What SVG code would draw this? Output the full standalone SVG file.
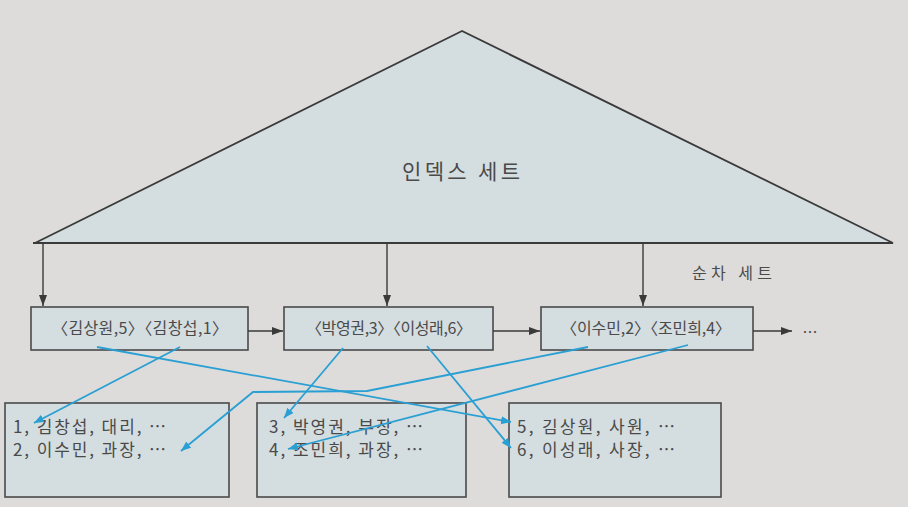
<svg xmlns="http://www.w3.org/2000/svg" width="908" height="507" viewBox="0 0 908 507">
<style>
.box{fill:#d4dde0;stroke:#4a4a4a;stroke-width:1.6}
.t{font-family:"Noto Sans CJK KR","Noto Sans",sans-serif;fill:#4a4a4a}
.d{font-size:17px}
.k{stroke:#3a3a3a;stroke-width:1.4;fill:none}
.b{stroke:#2a9fd3;stroke-width:1.8;fill:none}
</style>
<defs>
<marker id="ak" markerUnits="userSpaceOnUse" markerWidth="12" markerHeight="10" refX="11" refY="4" orient="auto"><path d="M0,0 L11,4 L0,8 z" fill="#3a3a3a"/></marker>
<marker id="ab" markerUnits="userSpaceOnUse" markerWidth="12" markerHeight="10" refX="10" refY="4" orient="auto"><path d="M0,0 L10,4 L0,8 z" fill="#2a9fd3"/></marker>
</defs>
<rect width="908" height="507" fill="#dddcdb"/>
<g id="index-set">
<polygon points="462,31 35,243 893,243" fill="#d4dde0" stroke="#3a3a3a" stroke-width="1.8"/>
<line x1="33" y1="243" x2="893" y2="243" stroke="#3a3a3a" stroke-width="2.2"/>
<text class="t" x="461" y="179" font-size="21" text-anchor="middle" textLength="118">인덱스 세트</text>
</g>
<text class="t" x="732" y="279" font-size="16" text-anchor="middle" textLength="80">순차 세트</text>
<g id="seq1"><rect class="box" x="31" y="307" width="217" height="43"/><text class="t" x="140" y="334" font-size="16" text-anchor="middle" textLength="176">〈김상원,5〉〈김창섭,1〉</text></g>
<g id="seq2"><rect class="box" x="284" y="307" width="209" height="43"/><text class="t" x="389" y="334" font-size="16" text-anchor="middle" textLength="166">〈박영권,3〉〈이성래,6〉</text></g>
<g id="seq3"><rect class="box" x="541" y="307" width="212" height="43"/><text class="t" x="646" y="334" font-size="16" text-anchor="middle" textLength="170">〈이수민,2〉〈조민희,4〉</text></g>
<text class="t" x="810" y="338" font-size="15" text-anchor="middle">…</text>
<g id="dataA"><rect class="box" x="5" y="403" width="224" height="94"/>
<text class="t d" x="13" y="433" textLength="153">1, 김창섭, 대리, …</text>
<text class="t d" x="13" y="456" textLength="153">2, 이수민, 과장, …</text></g>
<g id="dataB"><rect class="box" x="257" y="403" width="209" height="94"/>
<text class="t d" x="269" y="433" textLength="154">3, 박영권, 부장, …</text>
<text class="t d" x="269" y="456" textLength="154">4, 조민희, 과장, …</text></g>
<g id="dataC"><rect class="box" x="509" y="403" width="212" height="94"/>
<text class="t d" x="517" y="433" textLength="158">5, 김상원, 사원, …</text>
<text class="t d" x="517" y="456" textLength="158">6, 이성래, 사장, …</text></g>
<g id="connectors">
<line class="k" x1="43" y1="243" x2="43" y2="306" marker-end="url(#ak)"/>
<line class="k" x1="387" y1="243" x2="387" y2="306" marker-end="url(#ak)"/>
<line class="k" x1="643" y1="243" x2="643" y2="306" marker-end="url(#ak)"/>
<line class="k" x1="248" y1="331" x2="283" y2="331" marker-end="url(#ak)"/>
<line class="k" x1="493" y1="331" x2="540" y2="331" marker-end="url(#ak)"/>
<line class="k" x1="753" y1="331" x2="792" y2="331" marker-end="url(#ak)"/>
<polyline class="b" points="180,347 34,423" marker-end="url(#ab)"/>
<polyline class="b" points="97,347 511,422" marker-end="url(#ab)"/>
<polyline class="b" points="343,348 284,418" marker-end="url(#ab)"/>
<polyline class="b" points="427,346 511,448" marker-end="url(#ab)"/>
<polyline class="b" points="588,347 367,391 253,392 181,451" marker-end="url(#ab)"/>
<polyline class="b" points="688,345 288,449" marker-end="url(#ab)"/>
</g>
</svg>
